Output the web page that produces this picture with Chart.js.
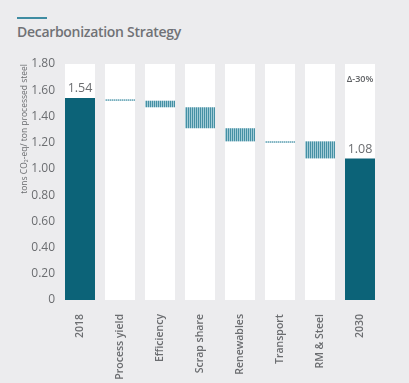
<!DOCTYPE html>
<html>
<head>
<meta charset="utf-8">
<script src="https://cdn.jsdelivr.net/npm/chart.js@4.4.0/dist/chart.umd.min.js"></script>
<style>
  html, body { margin: 0; padding: 0; background: #ececee; }
  #wrap { position: relative; width: 409px; height: 383px; overflow: hidden; }
  #accent { position: absolute; left: 17px; top: 17px; width: 30px; height: 2px; background: #3f8ca2; }
  #title { position: absolute; left: 17px; top: 22px; font: 600 14px "Open Sans", sans-serif; letter-spacing: -0.3px; color: #707276; }
  #chart { position: absolute; left: 0; top: 0; }
</style>
</head>
<body>
<div id="wrap">
  <div id="accent"></div>
  <div id="title">Decarbonization Strategy</div>
  <canvas id="chart" width="409" height="383"></canvas>
</div>
<script>
// Chart data
const categories = ['2018', 'Process yield', 'Efficiency', 'Scrap share', 'Renewables', 'Transport', 'RM & Steel', '2030'];
const barLow  = [0,    1.52, 1.47, 1.31, 1.21, 1.20, 1.08, 0];
const barHigh = [1.54, 1.53, 1.52, 1.47, 1.31, 1.21, 1.21, 1.08];
const totalIdx = [0, 7];
const valueLabels = ['1.54', '', '', '', '', '', '', '1.08'];
const deltaLabel = 'Δ-30%';
const axisMax = 1.8;

// vertical stripe pattern for the step bars
function stripes() {
    const c = document.createElement('canvas');
    c.width = 2; c.height = 2;
    const g = c.getContext('2d');
    g.fillStyle = '#a3ccd7';
    g.fillRect(0, 0, 2, 2);
    g.fillStyle = '#4590a4';
    g.fillRect(0, 0, 1, 2);
    return g.createPattern(c, 'repeat');
}

const ctx = document.getElementById('chart').getContext('2d');
const hatch = stripes();
const darkTeal = '#0c6378';

const barData = categories.map((c, i) => [barLow[i], barHigh[i]]);
const barColors = categories.map((c, i) => totalIdx.includes(i) ? darkTeal : hatch);
const columnData = categories.map(() => axisMax);

const labelPlugin = {
    id: 'labels',
    afterDatasetsDraw(chart) {
        const y = chart.scales.y;
        const meta = chart.getDatasetMeta(0);
        const g = chart.ctx;
        g.save();
        g.textAlign = 'center';
        g.textBaseline = 'bottom';
        g.fillStyle = '#6b6d70';
        g.font = '12.5px "Open Sans", sans-serif';
        valueLabels.forEach((t, i) => {
            if (!t) return;
            g.fillText(t, meta.data[i].x, y.getPixelForValue(barHigh[i]) - 3);
        });
        g.font = '600 9px "Open Sans", sans-serif';
        g.fillStyle = '#5f6164';
        g.textBaseline = 'middle';
        g.fillText(deltaLabel, meta.data[7].x, chart.chartArea.top + 15);
        g.restore();
    }
};

new Chart(ctx, {
    type: 'bar',
    data: {
        labels: categories,
        datasets: [{
            data: barData,
            backgroundColor: barColors,
            grouped: false,
            order: 0,
            barPercentage: 1,
            categoryPercentage: 0.75
        }, {
            data: columnData,
            backgroundColor: '#ffffff',
            grouped: false,
            order: 1,
            barPercentage: 1,
            categoryPercentage: 0.75
        }]
    },
    options: {
        responsive: false,
        animation: false,
        layout: { padding: { top: 64, right: 29, left: 0, bottom: 0 } },
        plugins: {
            legend: { display: false },
            tooltip: { enabled: false }
        },
        scales: {
            x: {
                grid: { display: false },
                border: { display: false },
                ticks: {
                    minRotation: 90, maxRotation: 90, padding: 6,
                    color: '#6b6d70',
                    font: { family: 'Open Sans', size: 10.5, weight: '600' }
                },
                afterFit(s) { s.height = 83; }
            },
            y: {
                min: 0, max: axisMax,
                grid: { display: false },
                border: { display: false },
                ticks: {
                    stepSize: 0.2, padding: -3,
                    color: '#6b6d70',
                    font: { family: 'Open Sans', size: 12 },
                    callback: v => v === 0 ? '0' : v.toFixed(2)
                },
                title: {
                    display: true,
                    text: 'tons CO₂-eq/ ton processed steel',
                    align: 'end',
                    color: '#6b6d70',
                    font: { family: 'Open Sans', size: 8.5 },
                    padding: { top: 19, bottom: 0 }
                },
                afterFit(s) { s.width = 60; }
            }
        }
    },
    plugins: [labelPlugin]
});
</script>
</body>
</html>
